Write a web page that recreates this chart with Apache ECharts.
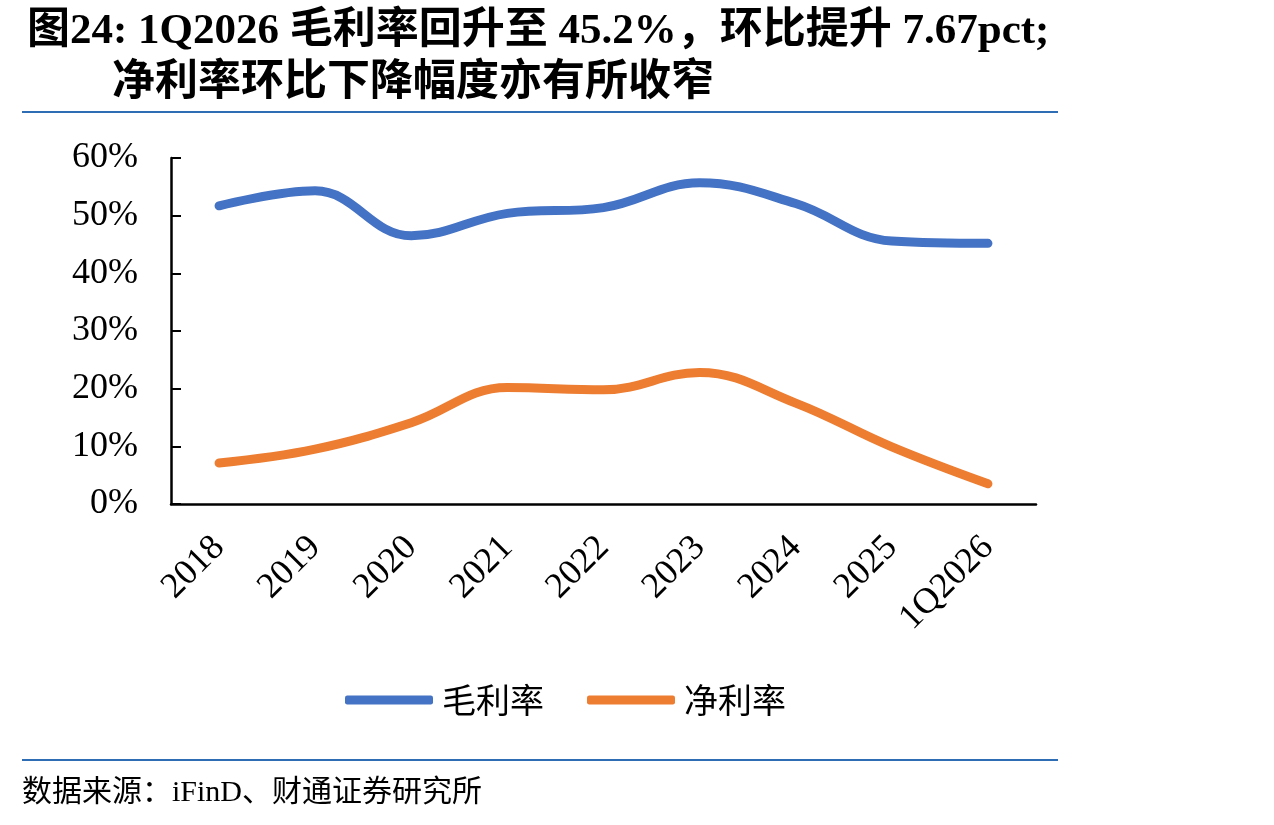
<!DOCTYPE html>
<html><head><meta charset="utf-8">
<script src="https://cdn.jsdelivr.net/npm/echarts@6/dist/echarts.min.js"></script>
<style>html,body{margin:0;padding:0;background:#fff}#c{width:1274px;height:825px}</style>
</head><body><div id="c"></div>
<script>
const categories = ['2018','2019','2020','2021','2022','2023','2024','2025','1Q2026'];
const grossMargin = [51.7, 54.3, 46.5, 50.4, 51.4, 55.7, 52.1, 45.6, 45.2];
const netMargin = [7.1, 9.5, 14.1, 20.2, 19.8, 22.8, 17.5, 9.9, 3.5];
const seriesNames = ['毛利率', '净利率'];
const titleLine1 = '图24: 1Q2026 毛利率回升至 45.2%，环比提升 7.67pct;';
const titleLine2 = '净利率环比下降幅度亦有所收窄';
const sourceText = '数据来源：iFinD、财通证券研究所';

const serif = "'Liberation Serif','Times New Roman','Noto Sans CJK SC'";
const chart = echarts.init(document.getElementById('c'));
chart.setOption({
  animation: false,
  backgroundColor: '#fff',
  grid: {left: 171, right: 238, top: 158, bottom: 321, containLabel: false},
  legend: {
    left: 340, top: 678,
    itemWidth: 88, itemHeight: 9, itemGap: 43,
    icon: 'roundRect',
    textStyle: {fontFamily: "'Noto Sans CJK SC'", fontSize: 34, color: '#000', padding: [0,0,0,4]},
    data: seriesNames
  },
  xAxis: {
    type: 'category', data: categories, boundaryGap: true,
    axisLine: {lineStyle: {color: '#000', width: 2.5}},
    axisTick: {inside: true, length: 10, lineStyle: {color: '#000', width: 2}},
    axisLabel: {rotate: 45, margin: 38, fontFamily: serif, fontSize: 36, color: '#000', interval: 0}
  },
  yAxis: {
    type: 'value', min: 0, max: 60, interval: 10,
    splitLine: {show: false},
    axisLine: {show: true, lineStyle: {color: '#000', width: 2.5}},
    axisTick: {show: true, inside: true, length: 10, lineStyle: {color: '#000', width: 2}},
    axisLabel: {formatter: '{value}%', margin: 33, fontFamily: serif, fontSize: 36, color: '#000'}
  },
  series: [
    {name: seriesNames[0], type: 'line', data: grossMargin, smooth: 0.4, symbol: 'none',
     lineStyle: {color: '#4472C4', width: 9, cap: 'round'}, itemStyle: {color: '#4472C4'}},
    {name: seriesNames[1], type: 'line', data: netMargin, smooth: 0.4, symbol: 'none',
     lineStyle: {color: '#ED7D31', width: 9, cap: 'round'}, itemStyle: {color: '#ED7D31'}}
  ],
  graphic: [
    {type: 'text', left: 27, top: 10, style: {text: titleLine1, font: "bold 43px " + serif, fill: '#000'}},
    {type: 'text', left: 112, top: 62, style: {text: titleLine2, font: "bold 43px " + serif, fill: '#000'}},
    {type: 'rect', shape: {x: 22, y: 111, width: 1036, height: 2}, style: {fill: '#2E6DB4'}},
    {type: 'rect', shape: {x: 22, y: 759, width: 1036, height: 2}, style: {fill: '#2E6DB4'}},
    {type: 'text', left: 22, top: 778, style: {text: sourceText, font: "30px " + serif, fill: '#000'}}
  ]
});
</script></body></html>
